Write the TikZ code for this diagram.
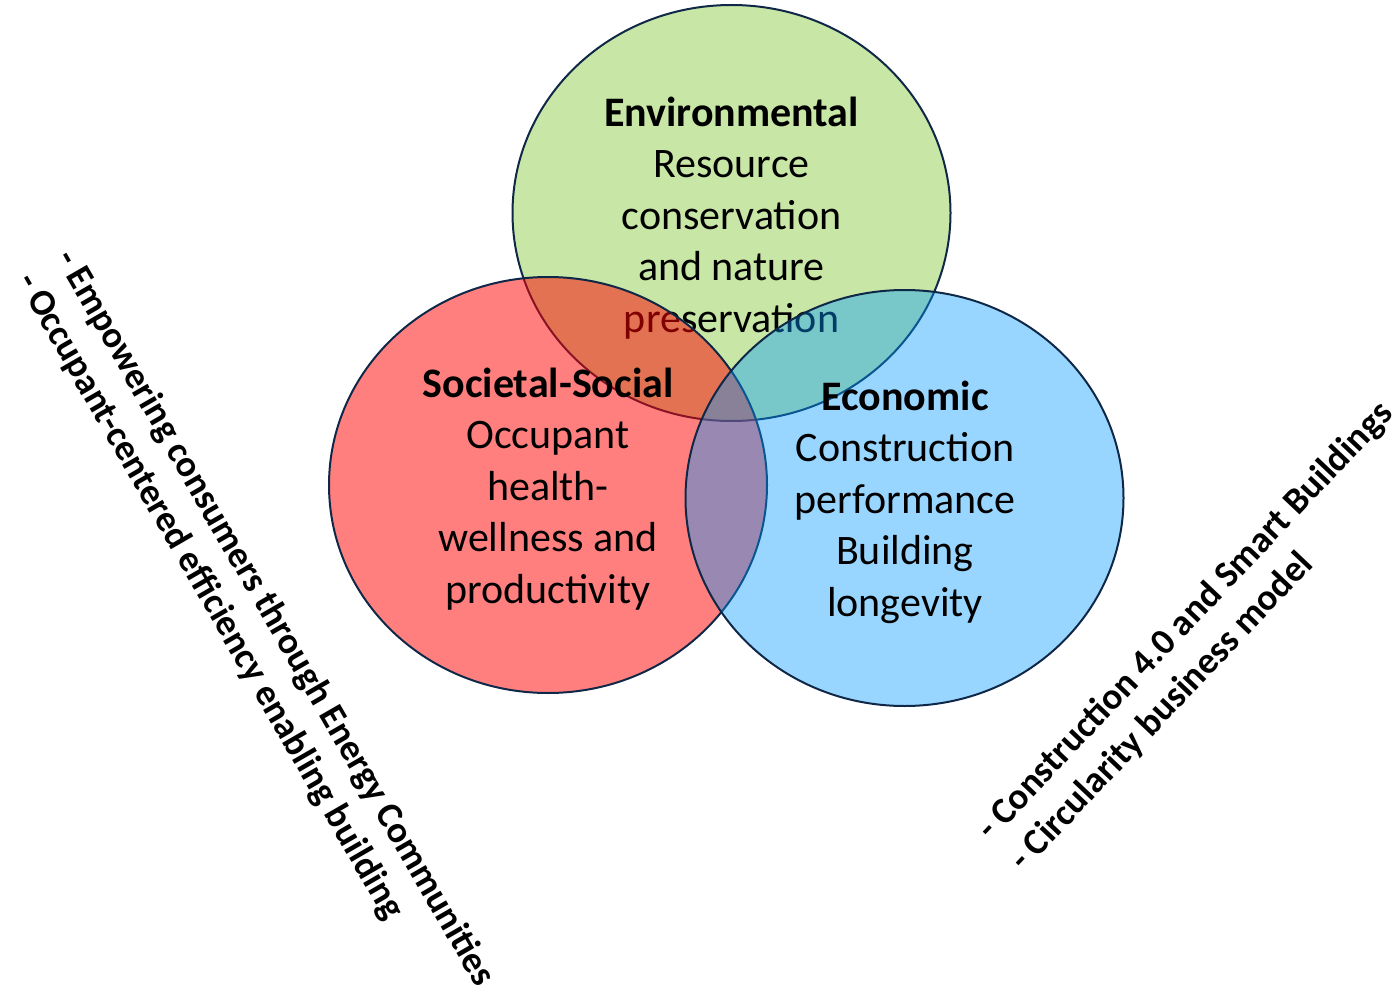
\documentclass[tikz,border=0pt]{standalone}
\usepackage{fontspec}
\setmainfont{Carlito}
\usetikzlibrary{shapes.geometric}
\definecolor{envgreen}{RGB}{200,230,165}
\definecolor{socred}{RGB}{255,0,0}
\definecolor{ecoblue}{RGB}{0,153,255}
\definecolor{rim}{RGB}{16,40,72}
\begin{document}
\begin{tikzpicture}[x=1pt,y=-1pt,
  circ/.style={ellipse, draw=rim, line width=2pt, minimum width=438pt, minimum height=416pt, inner sep=0pt},
  body/.style={align=center, font=\fontsize{42}{51.5}\selectfont, anchor=base, inner sep=0pt},
  side/.style={align=left, font=\bfseries\fontsize{37}{45}\selectfont, inner sep=0pt, anchor=center}]
\useasboundingbox (0,0) rectangle (1394,992);
\node[circ, fill=envgreen] (env) at (731.5,213) {};
\node[body] (envtext) at (731.5,332) {\textbf{Environmental}\\Resource\\conservation\\and nature\\preservation};
\node[circ, fill=socred, fill opacity=0.5] (soc) at (548,485) {};
\node[body] (soctext) at (548,603) {\textbf{Societal-Social}\\Occupant\\health-\\wellness and\\productivity};
\node[circ, fill=ecoblue, fill opacity=0.4] (eco) at (904.5,498) {};
\node[body] (ecotext) at (905,616) {\textbf{Economic}\\Construction\\performance\\Building\\longevity};
\node[side, rotate=-60] (lefttext) at (255,630) {- Empowering consumers through Energy Communities\\- Occupant-centered efficiency enabling building};
\node[side, rotate=46.6] (righttext) at (1202,637) {- Construction 4.0 and Smart Buildings\\- Circularity business model};
\end{tikzpicture}
\end{document}
